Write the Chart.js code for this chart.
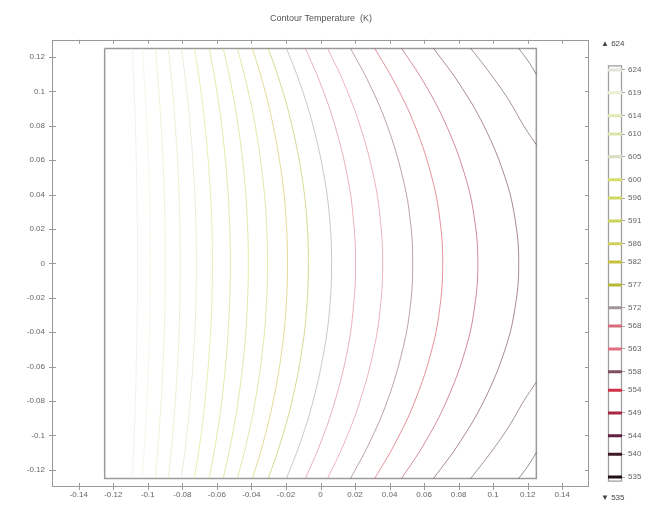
<!DOCTYPE html>
<html><head><meta charset="utf-8">
<script src="https://cdn.jsdelivr.net/npm/chart.js@4.4.1/dist/chart.umd.min.js"></script>
<style>
html,body{margin:0;padding:0;background:#fff;overflow:hidden;width:662px;height:505px}
#main{position:absolute;left:0;top:0;width:642px;height:505px}
#bar{position:absolute;left:590px;top:0;width:72px;height:505px}
</style></head><body>
<div id="main"><canvas id="c1"></canvas></div>
<div id="bar"><canvas id="c2"></canvas></div>
<script>
// ---- data ----
const levels = [624,619,614,610,605,600,596,591,586,582,577,572,568,563,558,554,549,544,540,535];
const levelColors = ['#e4e4dc','#ecefd6','#e2e8b4','#dde3aa','#d9dcc0','#d6df6e','#cfd860','#cbd45a','#d0d060','#c8c040',
                     '#b8b838','#a09898','#d86c7c','#e07080','#805060','#d03048','#a82844','#602040','#401828','#201018'];
// contour rows (upper half; lower half is the mirror) and x positions of each full-height contour (levels 624 .. 544)
const rowY   = [0.125, 0.105, 0.08, 0.05, 0.025, 0];
const arcR0X = [-0.109,-0.1032,-0.0957,-0.0882,-0.0806,-0.0730,-0.0644,-0.0563,-0.0481,-0.0394,-0.0302,-0.0197,-0.0087,0.0041,0.0174,0.0314,0.0470,0.0655];
const arcR1X = [-0.1081,-0.1019,-0.0940,-0.0861,-0.0780,-0.0699,-0.0608,-0.0520,-0.0430,-0.0334,-0.0234,-0.0120,-0.0002,0.0135,0.0280,0.0430,0.0600,0.0800];
const arcR2X = [-0.1072,-0.1005,-0.0923,-0.0841,-0.0755,-0.0669,-0.0572,-0.0477,-0.0378,-0.0274,-0.0165,-0.0043,0.0084,0.0229,0.0387,0.0547,0.0730,0.0946];
const arcR3X = [-0.1065,-0.0993,-0.0908,-0.0823,-0.0733,-0.0643,-0.0542,-0.0441,-0.0335,-0.0223,-0.0107,0.0022,0.0157,0.0309,0.0476,0.0645,0.0840,0.1069];
const arcR4X = [-0.1061,-0.0988,-0.0901,-0.0815,-0.0722,-0.0630,-0.0527,-0.0424,-0.0314,-0.0199,-0.0079,0.0054,0.0191,0.0347,0.0520,0.0692,0.0893,0.1128];
const arcR5X = [-0.106,-0.0986,-0.0899,-0.0812,-0.0719,-0.0626,-0.0522,-0.0418,-0.0307,-0.0191,-0.0070,0.0064,0.0203,0.0360,0.0534,0.0708,0.0911,0.1148];
// corner contours (540, 535) near the right edge
const c540X = [0.087, 0.0986, 0.109, 0.1177, 0.125];
const c540Y = [0.125, 0.110, 0.095, 0.080, 0.069];
const c535X = [0.1148, 0.120, 0.125];
const c535Y = [0.125, 0.118, 0.110];
// geometry box
const boxX = [-0.125, 0.125, 0.125, -0.125, -0.125];
const boxY = [0.125, 0.125, -0.125, -0.125, 0.125];
// tick labels
const xTicks = [-0.14,-0.12,-0.1,-0.08,-0.06,-0.04,-0.02,0,0.02,0.04,0.06,0.08,0.1,0.12,0.14];
const yTicks = [0.12,0.1,0.08,0.06,0.04,0.02,0,-0.02,-0.04,-0.06,-0.08,-0.1,-0.12];

const FONT = 'Liberation Sans, DejaVu Sans, sans-serif';
const fmt = v => String(parseFloat(Number(v).toFixed(2)));

const rows = [arcR0X, arcR1X, arcR2X, arcR3X, arcR4X, arcR5X];
const datasets = [];
for (let i = 0; i < arcR5X.length; i++) {
  const pts = [];
  rows.forEach((r, k) => pts.push({x: r[i], y: rowY[k]}));
  for (let k = rows.length - 2; k >= 0; k--) pts.push({x: rows[k][i], y: -rowY[k]});
  datasets.push({ label: String(levels[i]), data: pts, borderColor: levelColors[i] + '88' });
}
[[c540X, c540Y, 18], [c535X, c535Y, 19]].forEach(([xs, ys, li]) => {
  datasets.push({ label: String(levels[li]), data: xs.map((x, k) => ({x, y: ys[k]})), borderColor: levelColors[li] + '77' });
  datasets.push({ label: String(levels[li]), data: xs.map((x, k) => ({x, y: -ys[k]})), borderColor: levelColors[li] + '77' });
});
datasets.push({ label: 'box', data: boxX.map((x, k) => ({x, y: boxY[k]})), borderColor: '#9a9a9a', borderWidth: 1.5, tension: 0 });

const framePlugin = {
  id: 'frame',
  afterDatasetsDraw(chart) {
    const {ctx, chartArea: a, scales} = chart;
    ctx.save();
    ctx.strokeStyle = '#9a9a9a';
    ctx.lineWidth = 1;
    ctx.strokeRect(Math.round(a.left) + 0.5, Math.round(a.top) + 0.5, Math.round(a.width) - 1, Math.round(a.height) - 1);
    ctx.beginPath();
    scales.x.ticks.forEach(t => {
      const p = Math.round(scales.x.getPixelForValue(t.value)) + 0.5;
      ctx.moveTo(p, a.bottom - 4); ctx.lineTo(p, a.bottom + 3);
      ctx.moveTo(p, a.top); ctx.lineTo(p, a.top + 4);
    });
    scales.y.ticks.forEach(t => {
      const p = Math.round(scales.y.getPixelForValue(t.value)) + 0.5;
      ctx.moveTo(a.left - 3, p); ctx.lineTo(a.left + 4, p);
      ctx.moveTo(a.right - 4, p); ctx.lineTo(a.right, p);
    });
    ctx.stroke();
    ctx.restore();
  }
};

new Chart(document.getElementById('c1'), {
  type: 'scatter',
  data: { datasets },
  options: {
    responsive: true, maintainAspectRatio: false, animation: false, events: [],
    layout: { padding: 0 },
    elements: { line: { borderWidth: 1, tension: 0.4, fill: false }, point: { radius: 0 } },
    datasets: { scatter: { showLine: true, pointRadius: 0 } },
    plugins: {
      legend: { display: false }, tooltip: { enabled: false },
      title: { display: true, text: 'Contour Temperature  (K)', color: '#555',
               font: { family: FONT, size: 9, weight: 'normal' }, padding: { top: 13, bottom: 16 } }
    },
    scales: {
      x: { type: 'linear', min: -0.1555, max: 0.1555,
           afterBuildTicks(s) { s.ticks = xTicks.map(v => ({value: v})); },
           ticks: { font: { family: FONT, size: 8 }, color: '#666', padding: 3, maxRotation: 0, autoSkip: false, callback: v => fmt(v) },
           grid: { display: false, drawTicks: false, tickLength: 0 }, border: { display: false },
           afterFit(s) { s.height = 18; } },
      y: { type: 'linear', min: -0.13, max: 0.13,
           afterBuildTicks(s) { s.ticks = yTicks.map(v => ({value: v})); },
           ticks: { font: { family: FONT, size: 8 }, color: '#666', padding: 7, autoSkip: false, callback: v => fmt(v) },
           grid: { display: false, drawTicks: false, tickLength: 0 }, border: { display: false },
           afterFit(s) { s.width = 52; } },
      yR: { type: 'linear', position: 'right', min: 0, max: 1, display: true,
            ticks: { display: false }, grid: { display: false, drawTicks: false }, border: { display: false },
            afterFit(s) { s.width = 53; } }
    }
  },
  plugins: [framePlugin]
});

const barFrame = {
  id: 'barFrame',
  beforeDatasetsDraw(chart) {
    const {ctx, chartArea: a} = chart;
    ctx.save();
    ctx.strokeStyle = '#a0a0a0';
    ctx.lineWidth = 1.3;
    ctx.strokeRect(a.left + 0.5, a.top + 0.5, a.width - 1, a.height - 1);
    ctx.restore();
  }
};

new Chart(document.getElementById('c2'), {
  type: 'scatter',
  data: { datasets: [{
    data: levels.map(v => ({x: 0, y: v})),
    pointStyle: 'line', pointRadius: 7, pointHoverRadius: 7, pointBorderWidth: 3,
    pointBorderColor: levelColors, borderColor: levelColors, showLine: false
  }] },
  options: {
    responsive: true, maintainAspectRatio: false, animation: false, events: [],
    layout: { padding: { left: 11, right: 0, top: 0, bottom: 0 } },
    plugins: {
      legend: { display: false }, tooltip: { enabled: false },
      title: { display: true, text: '▲ 624', align: 'start', color: '#444',
               font: { family: FONT, size: 8, weight: 'normal' }, padding: { top: 38.5, bottom: 17.3 } },
      subtitle: { display: true, text: '▼ 535', position: 'bottom', align: 'start', color: '#444',
               font: { family: FONT, size: 8, weight: 'normal' }, padding: { top: 11.6, bottom: 2.2 } }
    },
    scales: {
      x: { type: 'linear', min: -1, max: 1, display: false },
      y: { type: 'linear', position: 'right', min: 534, max: 625,
           afterBuildTicks(s) { s.ticks = levels.map(v => ({value: v})); },
           ticks: { font: { family: FONT, size: 8 }, color: '#666', padding: 3, autoSkip: false },
           grid: { drawOnChartArea: false, tickLength: 3, color: '#aaa' }, border: { display: false },
           afterFit(s) { s.width = 40; } },
      yL: { type: 'linear', position: 'left', min: 0, max: 1, display: true,
            ticks: { display: false }, grid: { display: false, drawTicks: false }, border: { display: false },
            afterFit(s) { s.width = 7; } }
    }
  },
  plugins: [barFrame]
});
</script>
</body></html>
